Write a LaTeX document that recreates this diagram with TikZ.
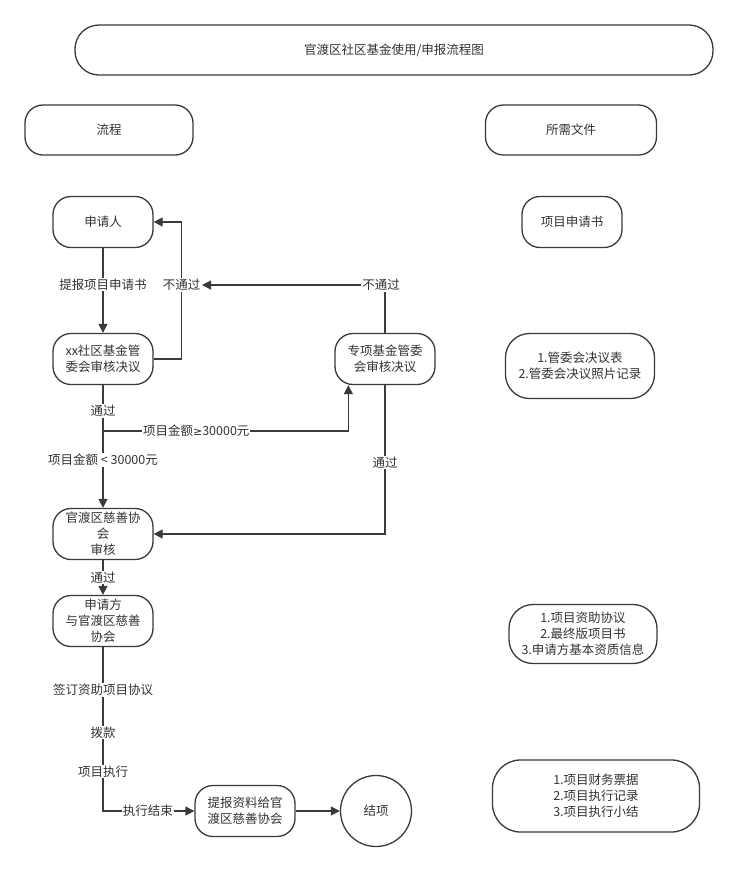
\documentclass[tikz,border=0pt]{standalone}
\usepackage{fontspec}
\setmainfont{Noto Sans CJK SC}
\newfontfamily\geqfont{DejaVu Sans}
\usetikzlibrary{arrows.meta, positioning}
\definecolor{stroke}{HTML}{3A3A3A}
\definecolor{ink}{HTML}{333333}
\tikzset{
  box/.style={rectangle, rounded corners=18pt, draw=stroke, line width=1.3pt,
              minimum width=100pt, minimum height=51pt, align=center,
              text=ink, font=\fontsize{12.5}{16}\selectfont},
  boxW/.style={box, rounded corners=24pt},
  endc/.style={circle, draw=stroke, line width=1.3pt, minimum size=71pt,
               text=ink, font=\fontsize{12.5}{16}\selectfont},
  arrow/.style={-{Triangle[length=9pt, width=9pt]}, line width=1.3pt, draw=stroke},
  lbl/.style={fill=white, inner sep=1pt, text=ink,
              font=\fontsize{12.5}{16}\selectfont},
}
\begin{document}
\begin{tikzpicture}[x=1pt, y=-1pt]

  %% Canvas
  \fill[white] (0,0) rectangle (738,871);
  \useasboundingbox (0,0) rectangle (738,871);

  %% Header
  \node[boxW, minimum width=638pt, minimum height=50pt] (title) at (394,50)
    {官渡区社区基金使用/申报流程图};
  \node[box, minimum width=168pt, minimum height=50pt] (colflow) at (109,130) {流程};
  \node[box, minimum width=171pt, minimum height=50pt] (coldocs) at (571,130) {所需文件};

  %% --- FLOW COLUMN ---
  \node[box] (apply) at (103,222) {申请人};
  \node[box] (xxcom) at (103,359) {xx社区基金管\\委会审核决议};
  \node[box] (spcom) at (385,359) {专项基金管委\\会审核决议};
  \node[box] (charity) at (103,534) {官渡区慈善协\\会\\审核};
  \node[box] (sign) at (103,621) {申请方\\与官渡区慈善\\协会};
  \node[box] (report) at (245,811) {提报资料给官\\渡区慈善协会};
  \node[endc] (finish) at (376,811) {结项};

  %% --- DOCUMENTS COLUMN ---
  \node[box] (doc1) at (572,222) {项目申请书};
  \node[boxW, minimum width=149pt, minimum height=65pt] (doc2) at (580,366)
    {1.管委会决议表\\2.管委会决议照片记录};
  \node[boxW, minimum width=148pt, minimum height=59pt] (doc3) at (583,634)
    {1.项目资助协议\\2.最终版项目书\\3.申请方基本资质信息};
  \node[boxW, rounded corners=28pt, minimum width=207pt, minimum height=72pt]
    (doc4) at (596,796) {1.项目财务票据\\2.项目执行记录\\3.项目执行小结};

  %% Connectors
  \draw[arrow] (apply) -- node[lbl, pos=0.43] {提报项目申请书} (xxcom);
  \draw[arrow] (xxcom.east) -- ++(28,0)
    |- node[lbl, pos=0.27] (nopass) {不通过} (apply.east);
  \draw[arrow] (spcom.north) |- node[lbl, pos=0.5, xshift=-4pt] {不通过} (nopass.east);

  \draw[arrow] (xxcom) -- node[lbl, pos=0.21] {通过}
    node[lbl, pos=0.61] {项目金额 < 30000元} (charity);
  \coordinate (split) at (103,431);
  \draw[arrow] (split) -| node[lbl, pos=0.19]
    {项目金额{\geqfont\fontsize{11}{16}\selectfont ≥}30000元}
    ([xshift=14pt]spcom.south west);
  \draw[arrow] (spcom.south) |- node[lbl, pos=0.26] {通过} (charity.east);

  \draw[arrow] (charity) -- node[lbl] {通过} (sign);
  \draw[arrow] (sign.south) |- node[lbl, pos=0.13] {签订资助项目协议}
    node[lbl, pos=0.26] {拨款}
    node[lbl, pos=0.38] {项目执行}
    node[lbl, pos=0.745] {执行结束} (report.west);
  \draw[arrow] (report) -- (finish);

\end{tikzpicture}
\end{document}
